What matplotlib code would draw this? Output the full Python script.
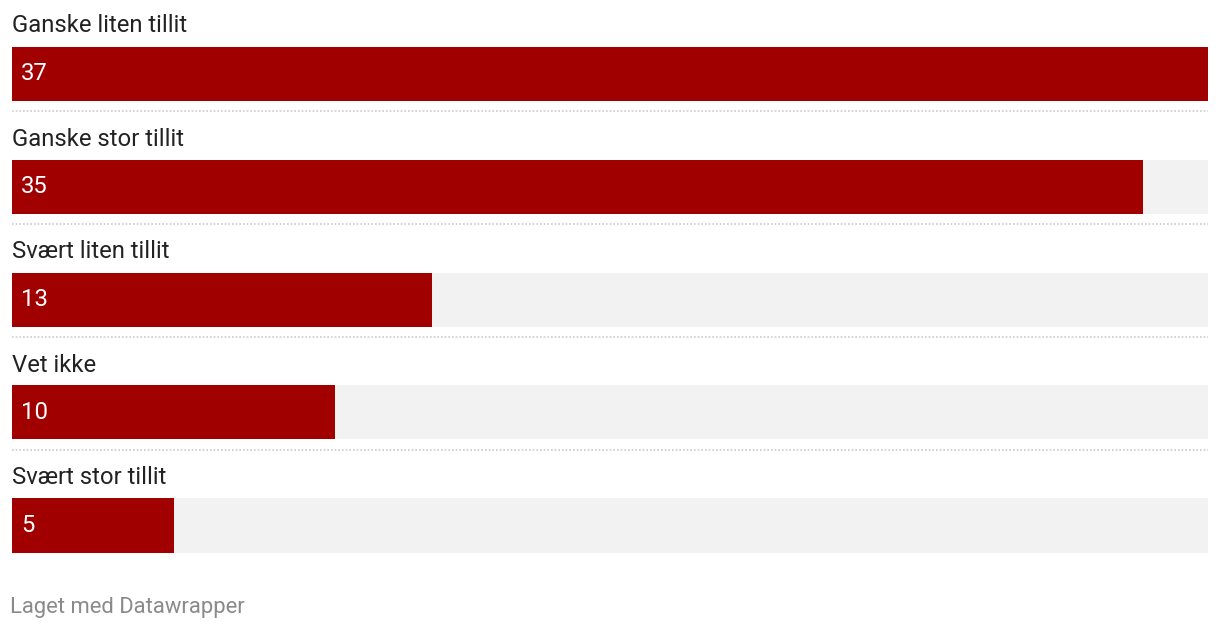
import matplotlib.pyplot as plt
import numpy as np

plt.rcParams['font.family'] = ['Roboto', 'DejaVu Sans']

categories = ['Ganske liten tillit', 'Ganske stor tillit', 'Svært liten tillit', 'Vet ikke', 'Svært stor tillit']
values = [37, 35, 13, 10, 5]
max_val = 37

bar_color = '#a00000'
bg_color = '#f2f2f2'

fig = plt.figure(figsize=(12.2, 6.28), dpi=100)
# axes spans the bar area horizontally, whole figure vertically
ax = fig.add_axes([12/1220, 0, 1196/1220, 1])
ax.set_xlim(0, max_val)
row = 113.0
ax.set_ylim((628 - 73.5) / row, -73.5 / row)
ax.axis('off')

ypos = np.arange(len(categories))
bh = 54 / row
ax.barh(ypos, [max_val]*len(values), height=bh, color=bg_color, left=0)
ax.barh(ypos, values, height=bh, color=bar_color)

px = max_val / 1196.0
for i, (c, v) in enumerate(zip(categories, values)):
    ax.text(0, i - 41/row, c, fontsize=17.2, color='#222222', va='baseline', ha='left')
    ax.text(9*px, i, str(v), fontsize=17.2, color='white', va='center', ha='left')
    if i < len(categories) - 1:
        ax.plot([0, max_val], [i + 37.5/row]*2, color='#cccccc', lw=1.2,
                linestyle=(0, (1, 1.2)), solid_capstyle='butt')

fig.text(10/1220, 1 - 607/628, 'Laget med Datawrapper', fontsize=15.8, color='#8a8a8a',
         va='center', ha='left')

plt.savefig('out.png', dpi=100)
